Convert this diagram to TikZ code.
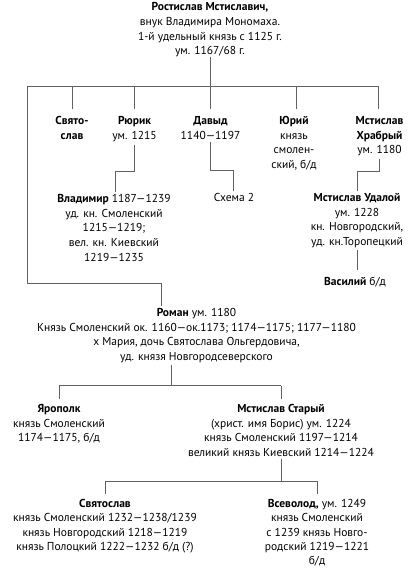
\documentclass[tikz,border=0pt]{standalone}
\usepackage{fontspec}
\setmainfont{PT Sans}
\newcommand\fsz{\fontsize{11.5}{14.6}\selectfont}
\newcommand\fszb{\fontsize{11.5}{14.2}\selectfont}
\begin{document}
\begin{tikzpicture}[x=1pt,y=-1pt,
  blk/.style={align=center, inner sep=0pt, anchor=north, font=\fsz},
  ln/.style={draw=black!62, line width=0.9pt}]
\useasboundingbox (0,0) rectangle (410,570);
% nodes
\node[blk] (root) at (210,0.5) {\strut\textbf{Ростислав Мстиславич,}\\внук Владимира Мономаха.\\1-й удельный князь с 1125 г.\\ум. 1167/68 г.};
\node[blk] (svyat) at (72,114) {\strut\textbf{Свято-}\\\textbf{слав}};
\node[blk] (rurik) at (134.5,114) {\strut\textbf{Рюрик}\\ум. 1215};
\node[blk] (david) at (210.5,114) {\strut\textbf{Давыд}\\1140—1197};
\node[blk] (yuri) at (294,114) {\strut\textbf{Юрий}\\князь\\смолен-\\ский, б/д};
\node[blk] (mstkh) at (379.5,114) {\strut\textbf{Мстислав}\\\textbf{Храбрый}\\ум. 1180};
\node[blk] (vlad) at (114,192.3) {\strut\textbf{Владимир} 1187—1239\\уд. кн. Смоленский\\1215—1219;\\вел. кн. Киевский\\1219—1235};
\node[blk] (schema) at (234,190.8) {\strut Схема 2};
\node[blk] (udal) at (357,191.3) {\strut\textbf{Мстислав Удалой}\\ум. 1228\\кн. Новгородский,\\уд. кн.Торопецкий};
\node[blk] (vasil) at (355,275.3) {\strut\textbf{Василий} б/д};
\node[blk] (roman) at (196.5,306.3) {\strut\textbf{Роман} ум. 1180\\Князь Смоленский ок. 1160—ок.1173; 1174—1175; 1177—1180\\х Мария, дочь Святослава Ольгердовича,\\уд. князя Новгородсеверского};
\node[blk] (yarop) at (59,402.3) {\strut\textbf{Ярополк}\\князь Смоленский\\1174—1175, б/д};
\node[blk] (mststar) at (281,402.3) {\strut\textbf{Мстислав Старый}\\(христ. имя Борис) ум. 1224\\князь Смоленский 1197—1214\\великий князь Киевский 1214—1224};
\node[blk,font=\fszb] (svyat2) at (105,497.5) {\strut\textbf{Святослав}\\князь Смоленский 1232—1238/1239\\князь Новгородский 1218—1219\\князь Полоцкий 1222—1232 б/д (?)};
\node[blk,font=\fszb] (vsevol) at (317,497.5) {\strut\textbf{Всеволод,} ум. 1249\\князь Смоленский\\с 1239 князь Новго-\\родский 1219—1221\\б/д};
% bus points
\coordinate (b1L) at (27,86);
\coordinate (b1R) at (378,86);
\coordinate (yd) at (296.7,86);
\coordinate (rk) at (115,171);
\coordinate (dv) at (233,170);
\coordinate (mk) at (357,171);
\coordinate (rin) at (161,283);
\coordinate (rm) at (171,385.5);
\coordinate (b2L) at (59,385.5);
\coordinate (b2R) at (281,385.5);
\coordinate (ms) at (281,481);
\coordinate (b3L) at (105,481);
\coordinate (b3R) at (317,481);
% connectors
\draw[ln] (root.south) -- (root.south |- b1L);
\draw[ln] (b1L) -- (b1R);
\draw[ln,shorten >=5pt] (svyat.north |- b1L) -- (svyat.north);
\draw[ln,shorten >=5pt] (rurik.north |- b1L) -- (rurik.north);
\draw[ln,shorten >=5pt] (david.north |- b1L) -- (david.north);
\draw[ln,shorten >=5pt] (yd) -- (yd |- yuri.north);
\draw[ln,shorten >=5pt] (b1R) -- (b1R |- mstkh.north);
\draw[ln,shorten <=3pt] (rurik.south) |- (rk) -- (rk |- vlad.north);
\draw[ln,shorten <=3pt] (david.south) |- (dv) -- (dv |- schema.north);
\draw[ln,shorten <=3pt] (mstkh.south) |- (mk) -- (mk |- udal.north);
\draw[ln,shorten <=2pt,shorten >=5pt] (udal.south) -- (udal.south |- vasil.north);
\draw[ln] (b1L) |- (rin) -- (rin |- roman.north);
\draw[ln,shorten <=2pt] (rm |- roman.south) -- (rm);
\draw[ln] (b2L) -- (b2R);
\draw[ln,shorten >=3pt] (b2L) -- (yarop.north);
\draw[ln,shorten >=3pt] (b2R) -- (mststar.north);
\draw[ln,shorten <=2.5pt] (mststar.south) -- (ms);
\draw[ln] (b3L) -- (b3R);
\draw[ln,shorten >=3.5pt] (b3L) -- (svyat2.north);
\draw[ln,shorten >=3.5pt] (b3R) -- (vsevol.north);
\end{tikzpicture}
\end{document}
